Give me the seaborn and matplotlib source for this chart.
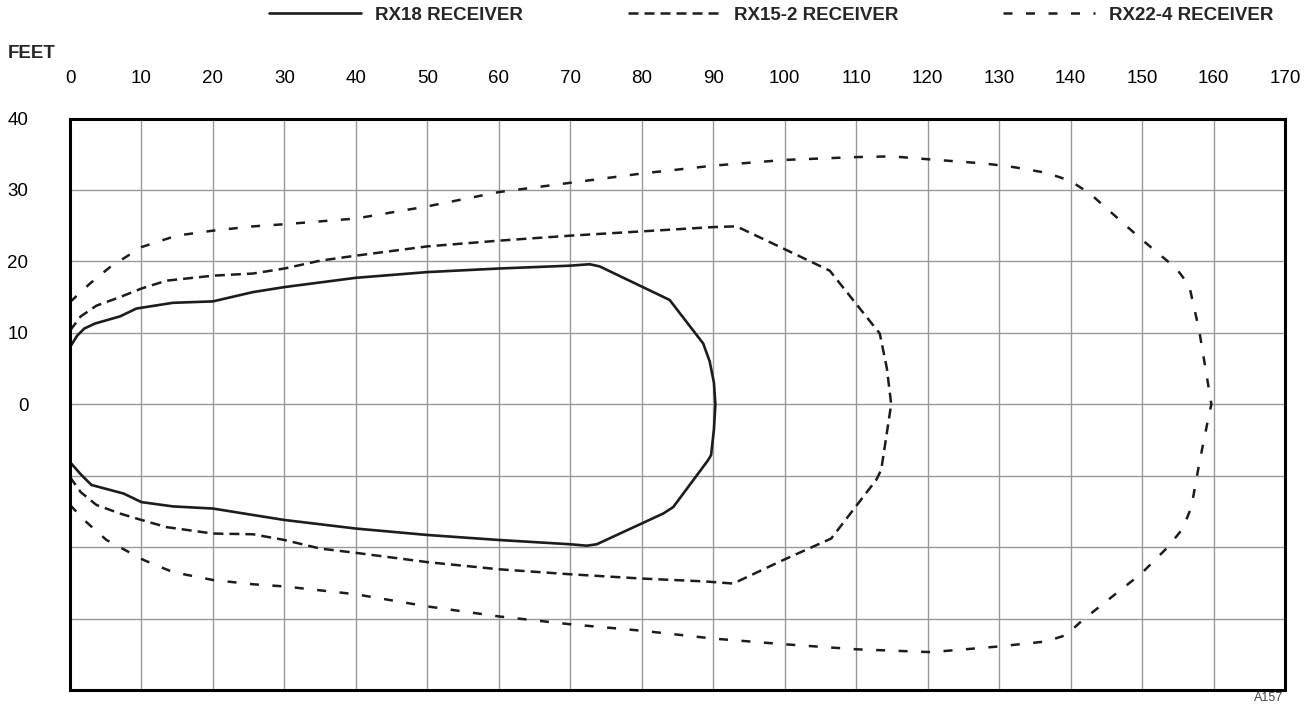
import numpy as np
import matplotlib
matplotlib.use("Agg")
import matplotlib.pyplot as plt
import seaborn as sns

# receiver range contours, feet
rx18_x = [0, 1, 2, 3.5, 7.0, 9.3, 14.4, 20, 25.6, 30, 40, 50, 60, 70, 72.7, 74.1,
          83.9, 88.6, 89.5, 90.1, 90.3, 90.1, 89.7, 89.3, 84.4, 83.0, 73.7, 72.3, 70,
          60, 50, 40, 30, 25.6, 20, 14.4, 10, 7.5, 3, 1.5, 0]
rx18_y = [8.0, 9.6, 10.6, 11.3, 12.3, 13.4, 14.2, 14.4, 15.7, 16.4, 17.7, 18.5, 19.0, 19.4, 19.6, 19.3,
          14.6, 8.5, 6.0, 3.0, 0.0, -3.5, -7.1, -7.8, -14.4, -15.3, -19.6, -19.8, -19.6,
          -19.0, -18.3, -17.4, -16.2, -15.5, -14.6, -14.3, -13.7, -12.5, -11.3, -9.8, -8.1]

rx15_x = [0, 1.5, 3.7, 7, 10, 13.5, 20, 25.6, 30, 35, 40, 50, 60, 70, 80, 90, 93, 93.9,
          99.8, 106.3, 113.3, 114.3, 114.9, 113.5, 112.8, 106.5, 99.8, 92.8, 88.8,
          80, 70, 60, 50, 40, 35, 30, 25.6, 20, 13.5, 10, 7, 3.7, 1.5, 0]
rx15_y = [10.3, 12.3, 13.8, 15.0, 16.2, 17.3, 18.0, 18.3, 19.0, 20.1, 20.8, 22.1, 22.9, 23.6, 24.2, 24.8, 24.9, 24.6,
          21.8, 18.7, 9.9, 5.0, 0.0, -9.2, -10.6, -18.8, -21.8, -25.1, -24.8,
          -24.4, -23.8, -23.1, -22.1, -20.8, -20.2, -19.0, -18.2, -18.1, -17.2, -16.2, -15.3, -14.1, -12.3, -10.2]

rx22_x = [0, 2.8, 5.6, 10, 14.9, 20, 25.6, 30, 40, 50, 60, 70, 80, 90, 100, 110, 115, 120,
          128, 132, 136.6, 139.9, 142.7, 149.9, 154.8, 156.6, 158.0, 159.7,
          159.4, 158.0, 156.9, 155.7, 153.6, 149.9, 141.7, 139.4, 136.6, 130, 120.5,
          110, 100, 90, 80, 70, 60, 50, 40, 30, 25.6, 20, 14.4, 10.3, 5.1, 2.3, 0]
rx22_y = [14.3, 16.9, 19.2, 22.0, 23.6, 24.3, 24.9, 25.2, 26.0, 27.7, 29.7, 31.0, 32.3, 33.4, 34.2, 34.6, 34.7, 34.3,
          33.7, 33.2, 32.4, 31.3, 29.5, 23.1, 19.0, 16.6, 10.3, 0.0,
          -1.3, -8.3, -14.4, -17.4, -20.0, -23.7, -30.2, -32.3, -33.2, -33.9, -34.7,
          -34.3, -33.6, -32.8, -31.7, -30.8, -29.7, -28.3, -26.6, -25.5, -25.2, -24.6, -23.5, -21.8, -19.0, -16.5, -14.1]

x_ticks = list(range(0, 171, 10))
y_ticks = list(range(-40, 41, 10))
y_labels = ["" if v < 0 else str(v) for v in y_ticks]

sns.set_style("white")
plt.rcParams["font.family"] = ["Liberation Sans", "DejaVu Sans"]

fig = plt.figure(figsize=(13.11, 7.06), dpi=100)
ax = fig.add_axes([70 / 1311, 1 - 690 / 706, 1215 / 1311, (690 - 118.5) / 706])

ink = "#1c1c1c"
fs = 13.5
sns.lineplot(x=rx18_x, y=rx18_y, sort=False, estimator=None, ax=ax, color=ink,
             linewidth=1.9, label="RX18 RECEIVER")
sns.lineplot(x=rx15_x, y=rx15_y, sort=False, estimator=None, ax=ax, color=ink,
             linewidth=1.8, linestyle=(0, (4.0, 2.4)), label="RX15-2 RECEIVER")
sns.lineplot(x=rx22_x, y=rx22_y, sort=False, estimator=None, ax=ax, color=ink,
             linewidth=1.8, linestyle=(0, (3.6, 5.4)), label="RX22-4 RECEIVER")

ax.set_xlim(0, 170)
ax.set_ylim(-40, 40)
ax.set_xticks(x_ticks)
ax.set_yticks(y_ticks)
ax.set_yticklabels(y_labels)
ax.xaxis.tick_top()
ax.tick_params(axis="x", length=0, pad=23, labelsize=fs, colors="black")
ax.tick_params(axis="y", length=0, pad=30, labelsize=fs, colors="black")
ax.grid(True, color="#999999", linewidth=1.0)
ax.set_axisbelow(True)
for s in ax.spines.values():
    s.set_visible(True)
    s.set_color("black")
    s.set_linewidth(2.2)
ax.set_xlabel("")
ax.set_ylabel("")

ax.legend(loc="center", bbox_to_anchor=(771.5 / 1311, 1 - 15 / 706), bbox_transform=fig.transFigure,
          ncol=3, frameon=False, handlelength=4.9, handletextpad=0.75, columnspacing=5.6,
          borderpad=0, prop={"weight": "bold", "size": fs})

fig.text(8 / 1311, 1 - 53 / 706, "FEET", fontsize=fs, fontweight="bold", va="center", ha="left")
fig.text(1283 / 1311, 1 - 698 / 706, "A157", fontsize=9, color="#444444", va="center", ha="right")

fig.savefig("out.png", dpi=100)
